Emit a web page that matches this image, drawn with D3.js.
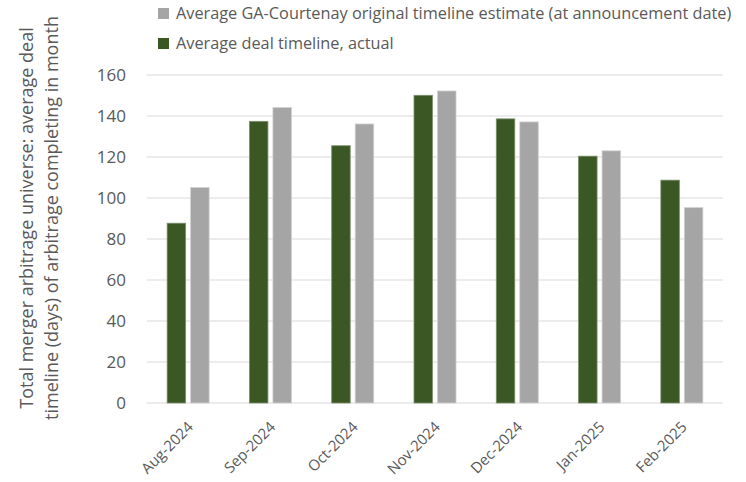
<!DOCTYPE html>
<html>
<head>
<meta charset="utf-8">
<script src="https://cdn.jsdelivr.net/npm/d3@7"></script>
<style>
  body { margin: 0; background: #fff; }
  svg text { font-family: "Open Sans", "Noto Sans", sans-serif; fill: #595959; }
</style>
</head>
<body>
<div id="chart"></div>
<script>
// chart data
const months = ['Aug-2024', 'Sep-2024', 'Oct-2024', 'Nov-2024', 'Dec-2024', 'Jan-2025', 'Feb-2025'];
const actual = [87.7, 137.4, 125.5, 150.1, 138.6, 120.4, 108.7];
const estimate = [105.1, 144.1, 136.1, 152.2, 137.1, 123.0, 95.3];
const yTicks = [0, 20, 40, 60, 80, 100, 120, 140, 160];
const seriesNames = ['Average deal timeline, actual', 'Average GA-Courtenay original timeline estimate (at announcement date)'];
const colors = ['#3a5724', '#a5a5a5'];

const W = 746, H = 482;
const margin = {top: 75, right: 23, bottom: 79, left: 147};
const width = W - margin.left - margin.right;
const height = H - margin.top - margin.bottom;

const svg = d3.select('#chart').append('svg')
  .attr('width', W)
  .attr('height', H);

const g = svg.append('g')
  .attr('transform', `translate(${margin.left},${margin.top})`);

const y = d3.scaleLinear().domain([0, 160]).range([height, 0]);
const x = d3.scaleBand().domain(months).range([0, width]);

// gridlines
g.selectAll('line.grid')
  .data(yTicks)
  .enter().append('line')
  .attr('class', 'grid')
  .attr('x1', 0).attr('x2', width)
  .attr('y1', d => y(d)).attr('y2', d => y(d))
  .attr('stroke', '#d9d9d9')
  .attr('stroke-width', 1.2);

// y axis labels
const yAxis = d3.axisLeft(y).tickValues(yTicks).tickSize(0).tickPadding(21);
g.append('g').call(yAxis)
  .call(s => s.select('.domain').remove())
  .selectAll('text')
  .style('font-size', '17px');

// bars
const barW = 18.5, gap = 5;
const rows = months.map((m, i) => ({m, vals: [actual[i], estimate[i]]}));
const groups = g.selectAll('g.month')
  .data(rows)
  .enter().append('g')
  .attr('class', 'month')
  .attr('transform', d => `translate(${x(d.m) + x.bandwidth() / 2},0)`);

groups.selectAll('rect')
  .data(d => d.vals)
  .enter().append('rect')
  .attr('x', (d, k) => k === 0 ? -barW - gap / 2 : gap / 2)
  .attr('width', barW)
  .attr('y', d => y(d))
  .attr('height', d => height - y(d))
  .attr('fill', (d, k) => colors[k])
  .attr('stroke', (d, k) => k === 0 ? '#7c8f6c' : '#cfcfcf')
  .attr('stroke-width', 0.8);

// x labels, rotated
const xAxis = d3.axisBottom(x).tickSize(0).tickPadding(0);
g.append('g')
  .attr('transform', `translate(0,${height})`)
  .call(xAxis)
  .call(s => s.select('.domain').remove())
  .selectAll('text')
  .style('font-size', '15px')
  .style('text-anchor', 'end')
  .attr('dy', 0)
  .attr('transform', 'translate(6,25) rotate(-45)');

// legend (estimate first, then actual)
const legend = svg.append('g');
[1, 0].forEach((k, i) => {
  legend.append('rect')
    .attr('x', 158).attr('y', 8 + i * 30)
    .attr('width', 11).attr('height', 11)
    .attr('fill', colors[k]);
  legend.append('text')
    .attr('x', 176).attr('y', 13.5 + i * 30)
    .attr('dy', '0.35em')
    .style('font-size', '16.3px')
    .text(seriesNames[k]);
});

// y axis title
const title = svg.append('text')
  .attr('transform', 'translate(0,218) rotate(-90)')
  .attr('text-anchor', 'middle')
  .style('font-size', '18px');
title.append('tspan').attr('x', 0).attr('y', 33).text('Total merger arbitrage universe: average deal');
title.append('tspan').attr('x', 0).attr('y', 58).text('timeline (days) of arbitrage completing in month');
</script>
</body>
</html>
